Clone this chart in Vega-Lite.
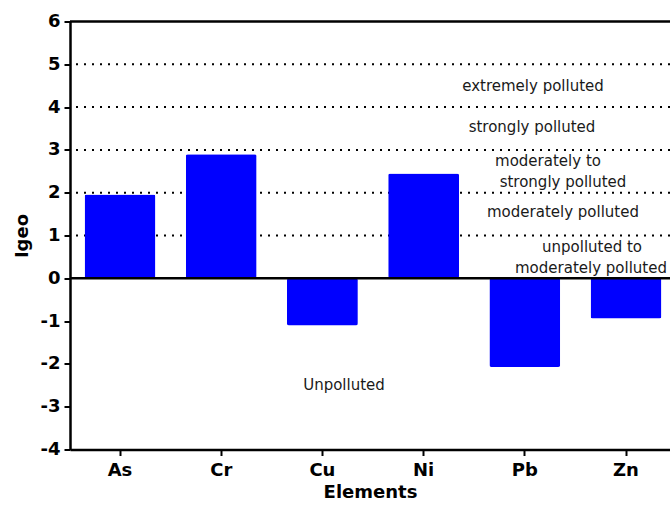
{
  "$schema": "https://vega.github.io/schema/vega-lite/v6.json",
  "width": 600,
  "height": 428,
  "autosize": {"type": "none"},
  "padding": {"left": 70, "top": 21.5, "right": 0, "bottom": 61.5},
  "background": "white",
  "config": {
    "view": {"stroke": null},
    "font": "DejaVu Sans"
  },
  "datasets": {
    "igeo": [
      {"element": "As", "igeo": 1.96},
      {"element": "Cr", "igeo": 2.9},
      {"element": "Cu", "igeo": -1.1},
      {"element": "Ni", "igeo": 2.45},
      {"element": "Pb", "igeo": -2.07},
      {"element": "Zn", "igeo": -0.94}
    ],
    "classBounds": [
      {"level": 1}, {"level": 2}, {"level": 3}, {"level": 4}, {"level": 5}
    ],
    "frameLines": [
      {"level": 0}, {"level": 6}
    ],
    "classLabels": [
      {"label": "extremely polluted", "pos": 4.63, "level": 4.5},
      {"label": "strongly polluted", "pos": 4.62, "level": 3.54},
      {"label": "moderately to", "pos": 4.78, "level": 2.74},
      {"label": "strongly polluted", "pos": 4.93, "level": 2.26},
      {"label": "moderately polluted", "pos": 4.93, "level": 1.54},
      {"label": "unpolluted to", "pos": 5.22, "level": 0.74},
      {"label": "moderately polluted", "pos": 5.21, "level": 0.25},
      {"label": "Unpolluted", "pos": 2.74, "level": -2.49}
    ]
  },
  "layer": [
    {
      "data": {"name": "classBounds"},
      "mark": {"type": "rule", "color": "black", "strokeWidth": 2, "strokeDash": [2, 6], "strokeCap": "butt"},
      "encoding": {
        "y": {"field": "level", "type": "quantitative", "scale": {"domain": [-4, 6], "nice": false, "zero": false}}
      }
    },
    {
      "data": {"name": "igeo"},
      "mark": {"type": "bar", "color": "#0000FF", "cornerRadius": 2},
      "encoding": {
        "x": {
          "field": "element",
          "type": "nominal",
          "sort": null,
          "scale": {"type": "band", "paddingInner": 0.3, "paddingOuter": 0.1145, "align": 0.63},
          "axis": {
            "title": "Elements",
            "titleFont": "DejaVu Sans",
            "titleFontSize": 18,
            "titleFontWeight": "bold",
            "titleColor": "black",
            "titlePadding": 4,
            "labelFont": "DejaVu Sans",
            "labelFontSize": 18,
            "labelFontWeight": "bold",
            "labelColor": "black",
            "labelAngle": 0,
            "labelPadding": 6,
            "domainColor": "black",
            "domainWidth": 2.5,
            "tickColor": "black",
            "tickWidth": 2,
            "tickSize": 6,
            "grid": false
          }
        },
        "y": {
          "field": "igeo",
          "type": "quantitative",
          "scale": {"domain": [-4, 6], "nice": false, "zero": false},
          "axis": {
            "title": "Igeo",
            "titleFont": "DejaVu Sans",
            "titleFontSize": 18,
            "titleFontWeight": "bold",
            "titleColor": "black",
            "titlePadding": 9,
            "values": [-4, -3, -2, -1, 0, 1, 2, 3, 4, 5, 6],
            "labelExpr": "toString(datum.value)",
            "labelFont": "DejaVu Sans",
            "labelFontSize": 18,
            "labelFontWeight": "bold",
            "labelColor": "black",
            "labelPadding": 4,
            "domainColor": "black",
            "domainWidth": 2.5,
            "tickColor": "black",
            "tickWidth": 2,
            "tickSize": 6,
            "grid": false
          }
        }
      }
    },
    {
      "data": {"name": "frameLines"},
      "mark": {"type": "rule", "color": "black", "strokeWidth": 2.5},
      "encoding": {
        "y": {"field": "level", "type": "quantitative"}
      }
    },
    {
      "data": {"name": "classLabels"},
      "mark": {"type": "text", "align": "center", "baseline": "middle", "font": "DejaVu Sans", "fontSize": 15, "color": "#1a1a1a"},
      "encoding": {
        "x": {"field": "pos", "type": "quantitative", "scale": {"domain": [0, 6], "nice": false, "zero": false}, "axis": null},
        "y": {"field": "level", "type": "quantitative"},
        "text": {"field": "label"}
      }
    }
  ],
  "resolve": {"scale": {"x": "independent"}}
}
